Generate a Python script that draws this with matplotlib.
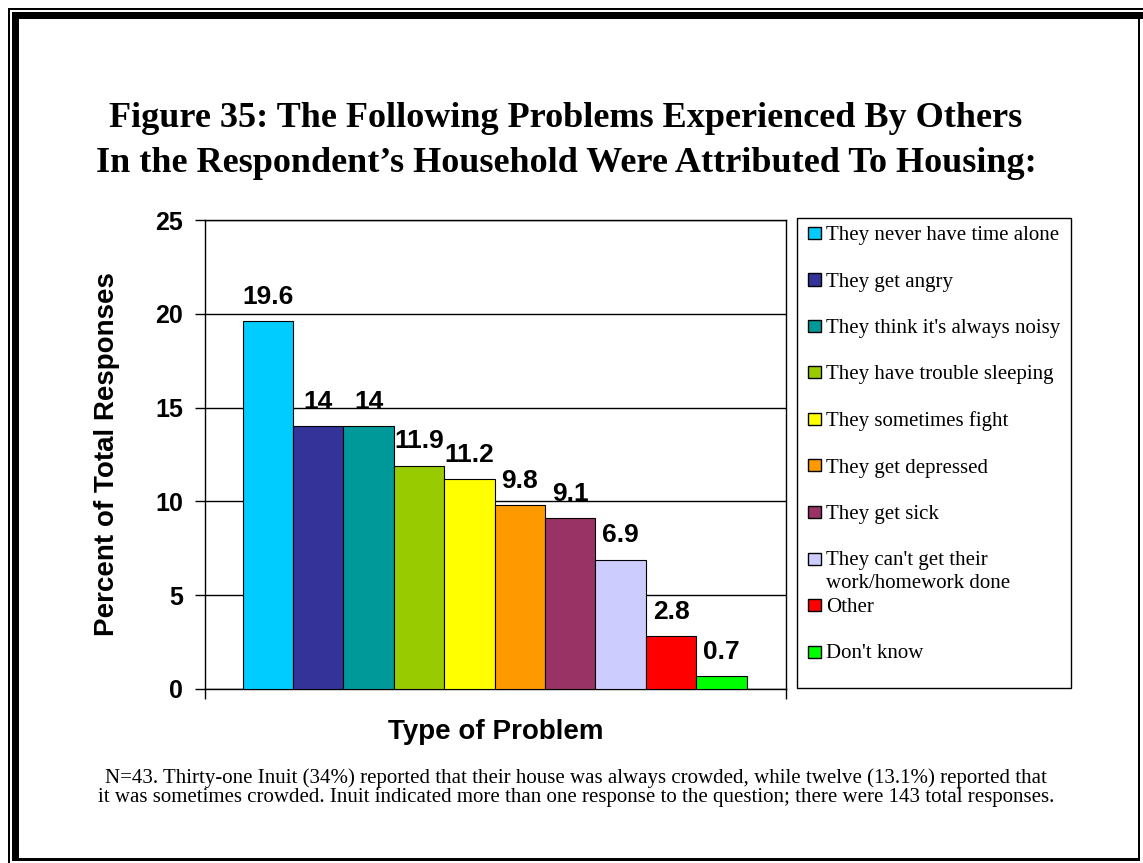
import numpy as np
import matplotlib
matplotlib.use("Agg")
import matplotlib.pyplot as plt
from matplotlib.patches import Rectangle

# data
categories = [
    "They never have time alone",
    "They get angry",
    "They think it's always noisy",
    "They have trouble sleeping",
    "They sometimes fight",
    "They get depressed",
    "They get sick",
    "They can't get their\nwork/homework done",
    "Other",
    "Don't know",
]
values = [19.6, 14, 14, 11.9, 11.2, 9.8, 9.1, 6.9, 2.8, 0.7]
value_labels = ["19.6", "14", "14", "11.9", "11.2", "9.8", "9.1", "6.9", "2.8", "0.7"]
colors = ["#00CCFF", "#333399", "#009999", "#99CC00", "#FFFF00",
          "#FF9900", "#993366", "#CCCCFF", "#FF0000", "#00FF00"]
yticks = [0, 5, 10, 15, 20, 25]

title_lines = ["Figure 35: The Following Problems Experienced By Others",
               "In the Respondent\u2019s Household Were Attributed To Housing:"]
note_lines = ["N=43. Thirty-one Inuit (34%) reported that their house was always crowded, while twelve (13.1%) reported that",
              "it was sometimes crowded. Inuit indicated more than one response to the question; there were 143 total responses."]

W, H = 1143, 863
SANS = "Liberation Sans"
SERIF = "Liberation Serif"


def fx(px):
    return px / W


def fy(py):
    return 1 - py / H


def px_box(fig, x0, y0, x1, y1):
    # filled black rectangle in pixel coords (top-left origin)
    fig.add_artist(Rectangle((fx(x0), fy(y1)), fx(x1) - fx(x0), fy(y0) - fy(y1),
                             transform=fig.transFigure, color="black", lw=0))


fig = plt.figure(figsize=(W / 100, H / 100), dpi=100)

# page border
px_box(fig, 8, 8, W, 10)
px_box(fig, 8, 8, 10, H)
px_box(fig, 12, 12, W, 19)
px_box(fig, 12, 12, 19, 861)
px_box(fig, 1138, 12, 1140, 861)
px_box(fig, 12, 858, 1140, 861)

# title
for i, line in enumerate(title_lines):
    fig.text(fx(566), fy(127 + 45 * i), line, ha="center", va="baseline",
             fontsize=26, fontweight="bold", family=SERIF)

# plot area
ax = fig.add_axes([fx(205), fy(689), fx(786) - fx(205), fy(220) - fy(689)])
x = np.arange(len(values))
ax.bar(x, values, width=1.0, color=colors, edgecolor="black", linewidth=0.8, zorder=3)
for xi, v, lab in zip(x, values, value_labels):
    ax.annotate(lab, (xi, v), xytext=(0, 12.5), textcoords="offset points",
                ha="center", va="baseline", fontsize=19, fontweight="bold",
                family=SANS, zorder=4)

ax.set_xlim(-1.248, 10.28)
ax.set_ylim(0, 25)
ax.set_yticks(yticks)
ax.set_yticklabels([str(t) for t in yticks], fontsize=18, fontweight="bold", family=SANS)
ax.set_xticks([-1.248, 10.28])
ax.set_xticklabels(["", ""])
ax.tick_params(axis="both", direction="out", length=7, width=1, color="black")
ax.tick_params(axis="y", pad=9)
ax.yaxis.grid(True, color="black", linewidth=1, zorder=0)
ax.set_axisbelow(True)
for s in ax.spines.values():
    s.set_color("black")
    s.set_linewidth(1)
ax.set_ylabel("Percent of Total Responses", fontsize=20, fontweight="bold", family=SANS)
ax.yaxis.set_label_coords(fx(120 - 205) / (fx(786) - fx(205)), 0.5)
fig.text(fx(496), fy(732), "Type of Problem", ha="center", va="center",
         fontsize=20, fontweight="bold", family=SANS)

# legend box
fig.add_artist(Rectangle((fx(797), fy(688)), fx(1071) - fx(797), fy(218) - fy(688),
                         transform=fig.transFigure, facecolor="white",
                         edgecolor="black", lw=1))
for i, (lab, c) in enumerate(zip(categories, colors)):
    base = 240 + 46.5 * i
    fig.add_artist(Rectangle((fx(808), fy(base - 1)), fx(13), fy(base - 13) - fy(base - 1),
                             transform=fig.transFigure, facecolor=c,
                             edgecolor="black", lw=1))
    for j, part in enumerate(lab.split("\n")):
        fig.text(fx(826), fy(base + 22.5 * j), part, ha="left", va="baseline",
                 fontsize=15, family=SERIF)

# footnote
for i, line in enumerate(note_lines):
    fig.text(fx(576), fy(783 + 18.5 * i), line, ha="center", va="baseline",
             fontsize=15, family=SERIF)

fig.savefig("out.png", dpi=100)
